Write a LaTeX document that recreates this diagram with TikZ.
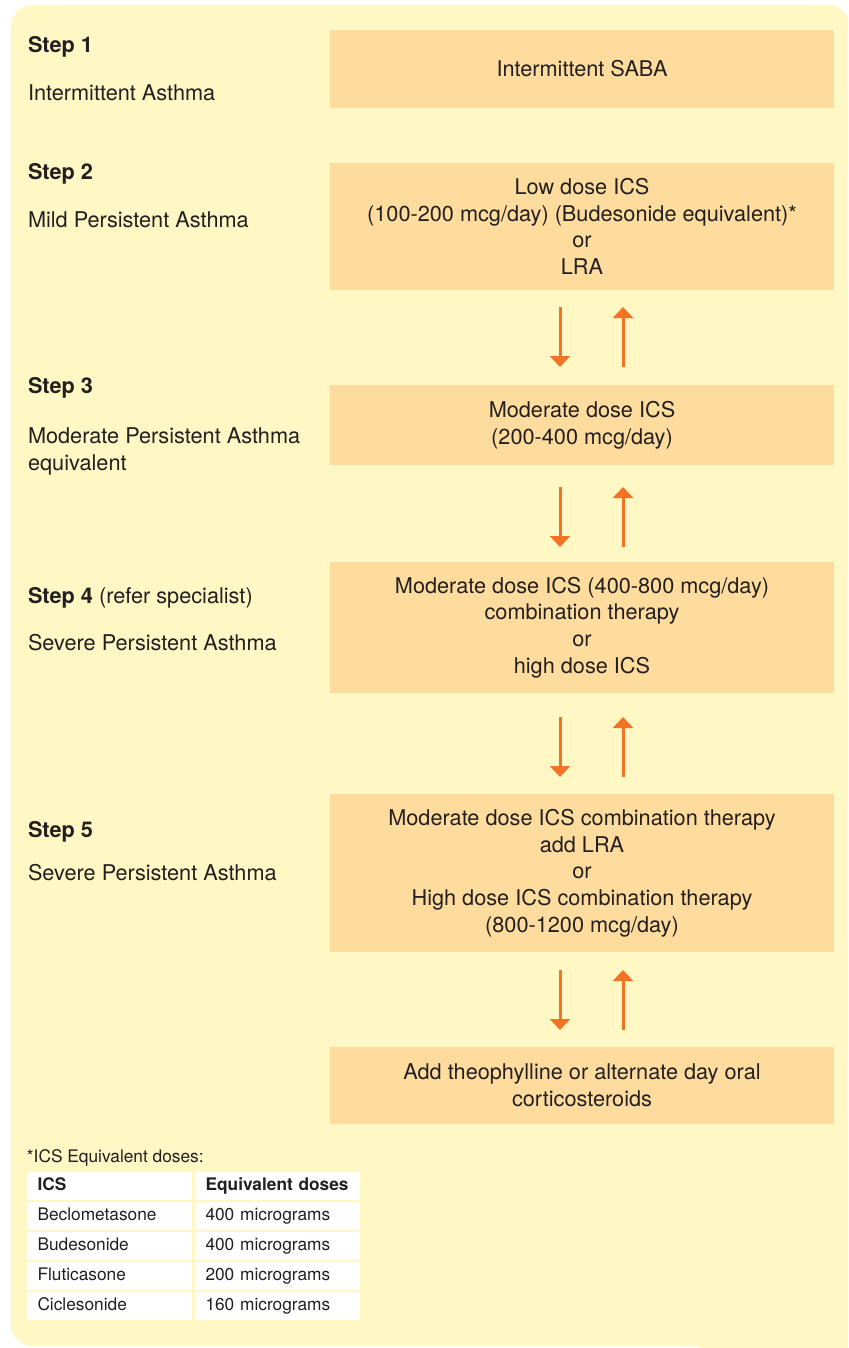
\documentclass[tikz,border=0pt]{standalone}
\usepackage{fontspec}
\setmainfont{TeX Gyre Heros}
\usetikzlibrary{arrows.meta}
\definecolor{panelc}{RGB}{255,248,196}
\definecolor{boxc}{RGB}{254,220,158}
\definecolor{arrc}{RGB}{243,115,38}
\definecolor{txtc}{RGB}{35,31,32}
\begin{document}
\begin{tikzpicture}[x=1pt,y=-1pt,
  every node/.style={text=txtc, inner sep=0pt, outer sep=0pt},
  stepbox/.style={fill=boxc, minimum width=504pt, align=center, font=\fontsize{21.7}{26.7}\selectfont},
  lbl/.style={anchor=base west, font=\fontsize{21.7}{26.7}\selectfont},
  arr/.style={draw=arrc, line width=3pt, -{Triangle[width=20pt,length=11pt]}},
  cell/.style={fill=white, minimum width=165pt, minimum height=28pt, anchor=north west,
    inner xsep=10.5pt, inner ysep=0pt, text width=144pt, align=left,
    text height=13pt, text depth=3.1pt, font=\fontsize{17.3}{20}\selectfont},
  note/.style={anchor=base west, font=\fontsize{17.3}{20}\selectfont}
]
\useasboundingbox (0,0) rectangle (848,1348);
\begin{scope}
\clip (0,0) rectangle (848,1348);
\fill[panelc, rounded corners=22pt] (11,5) rectangle (850,1346);
\fill[panelc] (700,1200) rectangle (848,1348);
\end{scope}

% treatment boxes
\node[stepbox, minimum height=78pt]  (b1) at (582,69)     {Intermittent SABA};
\node[stepbox, minimum height=127pt] (b2) at (582,226.5)  {Low dose ICS\\(100-200 mcg/day) (Budesonide equivalent)*\\or\\LRA};
\node[stepbox, minimum height=80pt]  (b3) at (582,425)    {Moderate dose ICS\\(200-400 mcg/day)};
\node[stepbox, minimum height=131pt] (b4) at (582,627.5)  {Moderate dose ICS (400-800 mcg/day)\\combination therapy\\or\\high dose ICS};
\node[stepbox, minimum height=158pt] (b5) at (582,873)    {Moderate dose ICS combination therapy\\add LRA\\or\\High dose ICS combination therapy\\(800-1200 mcg/day)};
\node[stepbox, minimum height=77pt]  (b6) at (582,1085.5) {Add theophylline or alternate day oral\\corticosteroids};

% step labels
\node[lbl] (s1)  at (28,53)  {\textbf{Step 1}};
\node[lbl] (s1t) at (28,101) {Intermittent Asthma};
\node[lbl] (s2)  at (28,180) {\textbf{Step 2}};
\node[lbl] (s2t) at (28,228) {Mild Persistent Asthma};
\node[lbl] (s3)  at (28,393) {\textbf{Step 3}};
\node[lbl] (s3t) at (28,443) {Moderate Persistent Asthma};
\node[lbl] (s3u) at (28,470) {equivalent};
\node[lbl] (s4)  at (28,603) {\textbf{Step 4} (refer specialist)};
\node[lbl] (s4t) at (28,650) {Severe Persistent Asthma};
\node[lbl] (s5)  at (28,837) {\textbf{Step 5}};
\node[lbl] (s5t) at (28,880) {Severe Persistent Asthma};

% arrows
\draw[arr] ([shift={(-22,17)}]b2.south) -- ([shift={(-22,-18)}]b3.north);
\draw[arr] ([shift={(41,-18)}]b3.north) -- ([shift={(41,17)}]b2.south);
\draw[arr] ([shift={(-22,22)}]b3.south) -- ([shift={(-22,-15)}]b4.north);
\draw[arr] ([shift={(41,-15)}]b4.north) -- ([shift={(41,22)}]b3.south);
\draw[arr] ([shift={(-22,24)}]b4.south) -- ([shift={(-22,-17)}]b5.north);
\draw[arr] ([shift={(41,-17)}]b5.north) -- ([shift={(41,24)}]b4.south);
\draw[arr] ([shift={(-22,18)}]b5.south) -- ([shift={(-22,-17)}]b6.north);
\draw[arr] ([shift={(41,-17)}]b6.north) -- ([shift={(41,18)}]b5.south);

% footnote table
\node[note] (fn) at (27,1162) {*ICS Equivalent doses:};
\node[cell] (t00) at (27,1172)  {\textbf{ICS}};
\node[cell] (t01) at (195,1172) {\textbf{Equivalent doses}};
\node[cell] (t10) at (27,1202)  {Beclometasone};
\node[cell] (t11) at (195,1202) {400 micrograms};
\node[cell] (t20) at (27,1232)  {Budesonide};
\node[cell] (t21) at (195,1232) {400 micrograms};
\node[cell] (t30) at (27,1262)  {Fluticasone};
\node[cell] (t31) at (195,1262) {200 micrograms};
\node[cell] (t40) at (27,1292)  {Ciclesonide};
\node[cell] (t41) at (195,1292) {160 micrograms};
\end{tikzpicture}
\end{document}
